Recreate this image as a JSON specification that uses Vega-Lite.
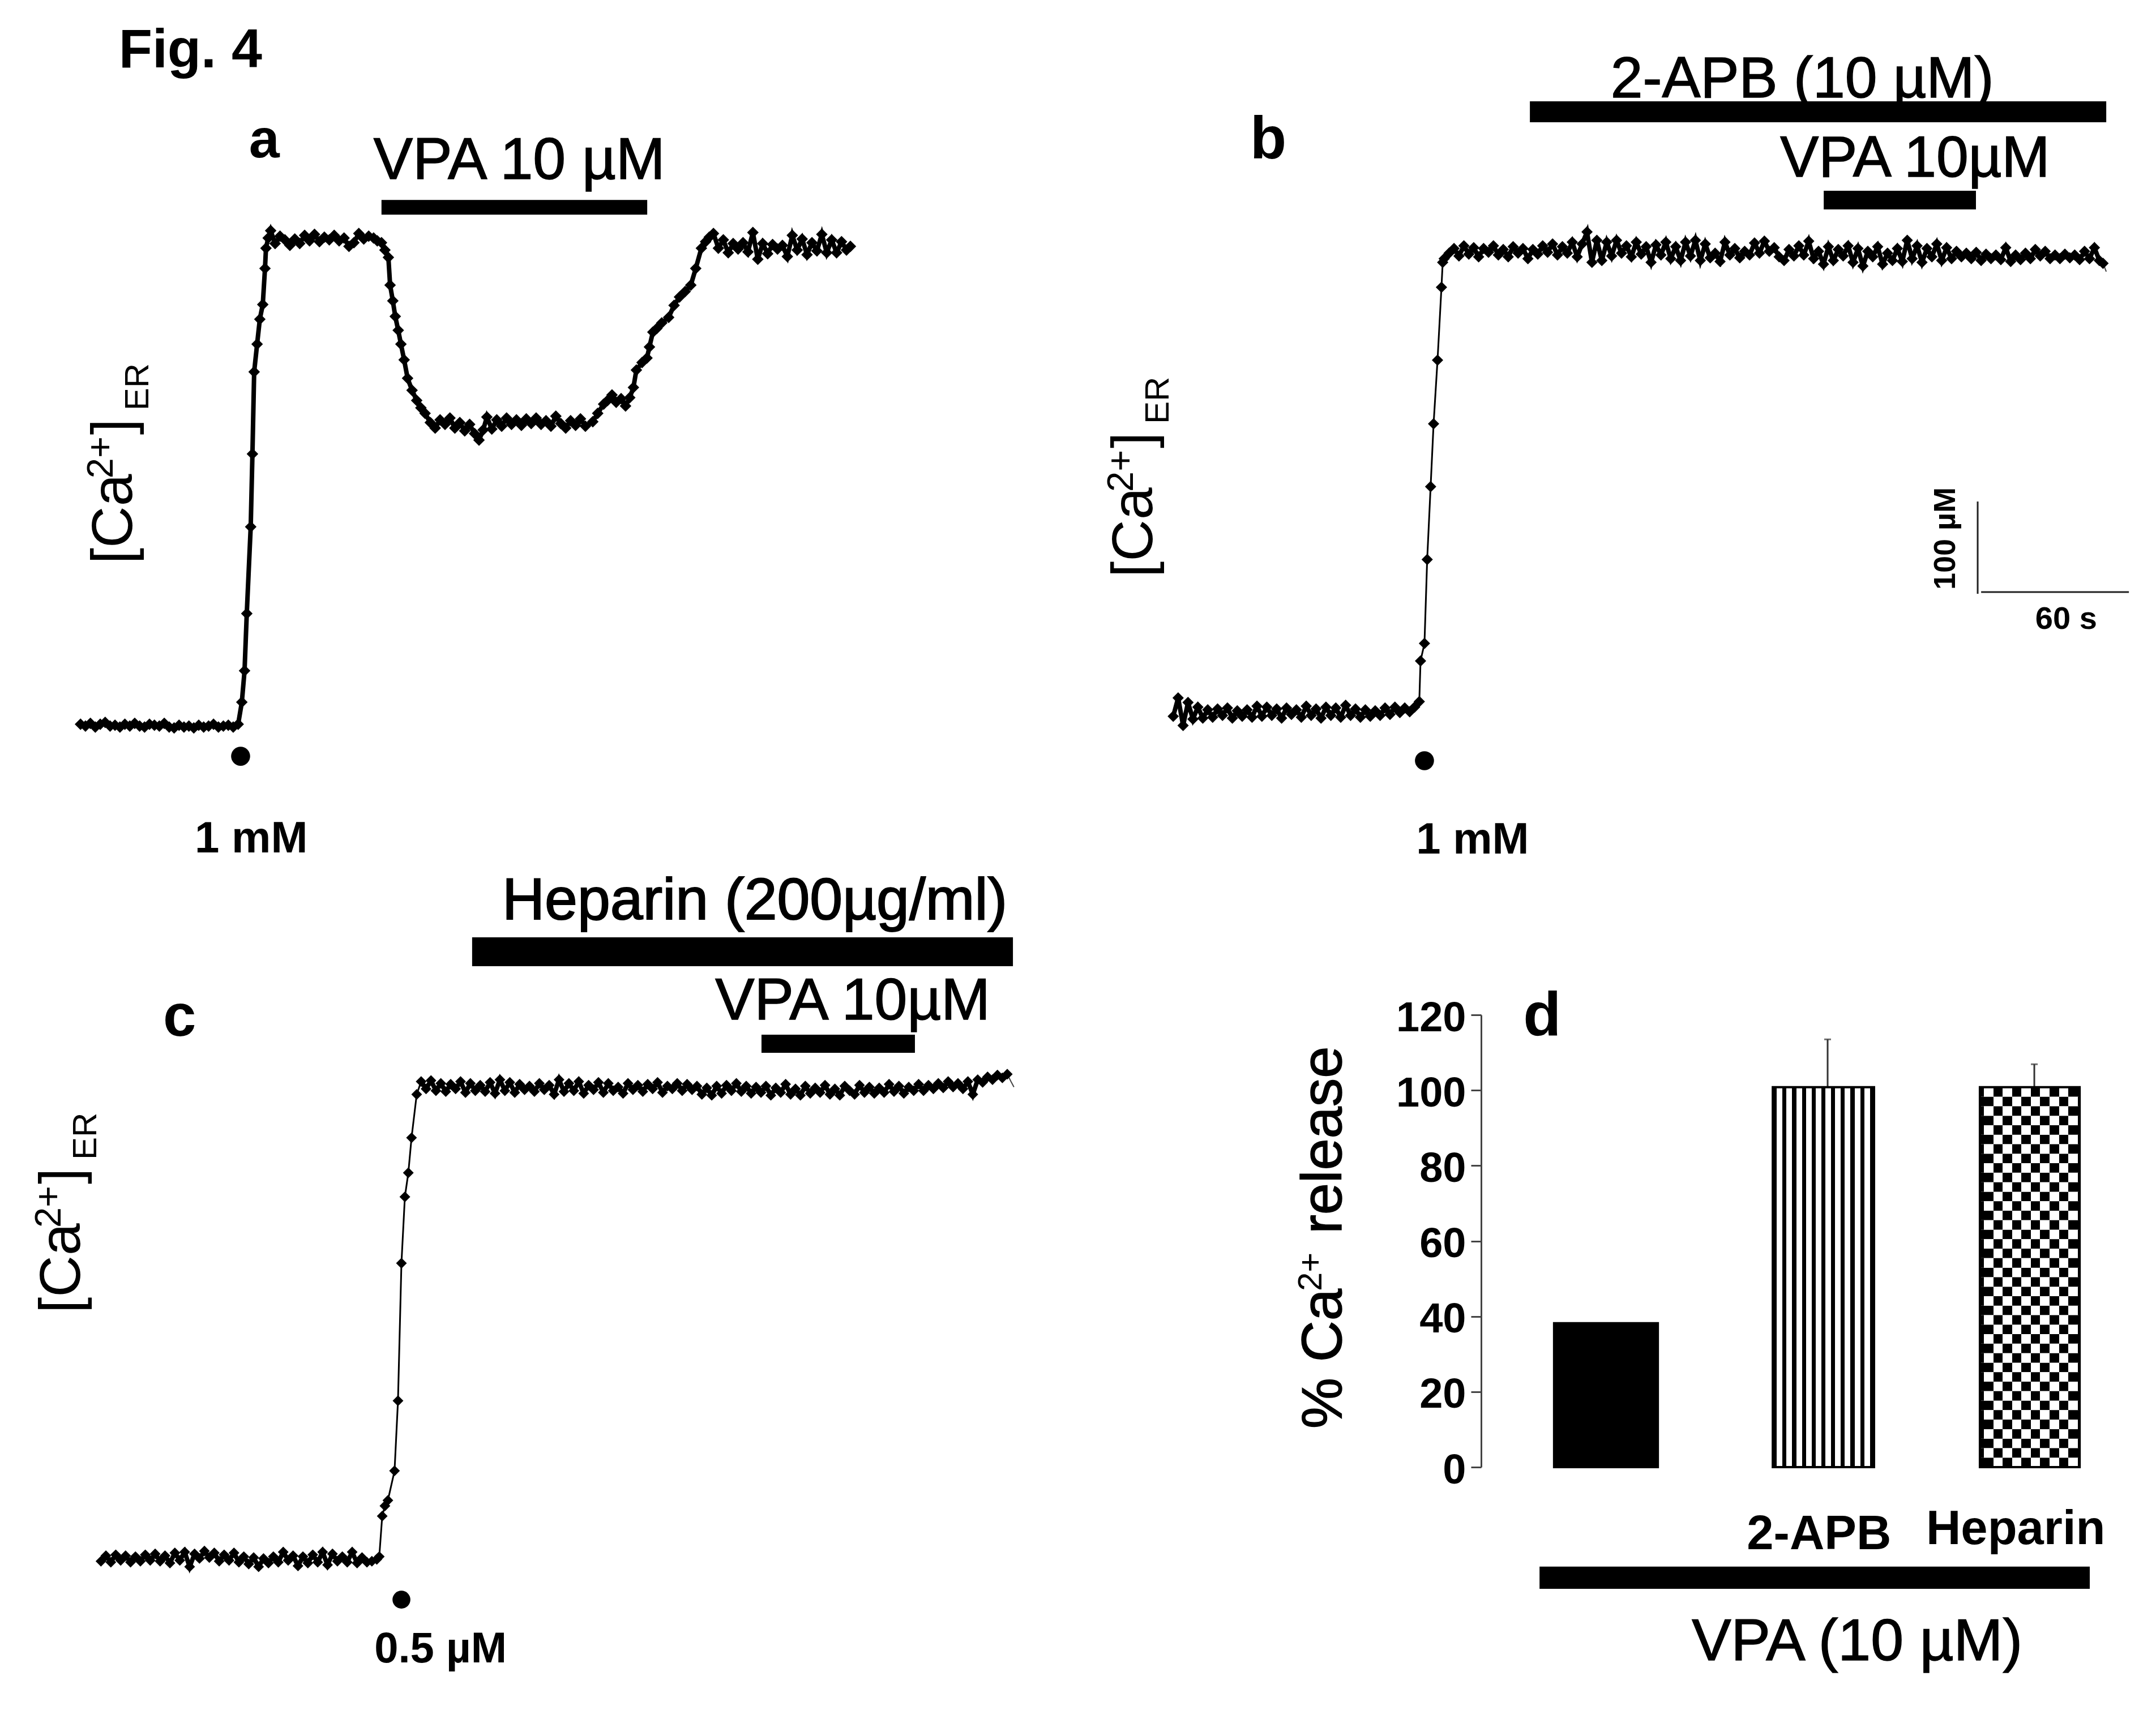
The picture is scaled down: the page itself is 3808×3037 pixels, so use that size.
{"$schema":"https://vega.github.io/schema/vega-lite/v6.json","background":"white","padding":0,"bounds":"flush","spacing":0,"columns":2,"align":"none",
"config":{"view":{"stroke":null},"text":{"font":"Liberation Sans","align":"left","baseline":"alphabetic","color":"black"},"line":{"color":"black"},"point":{"color":"black"},"rect":{"color":"black"}},
"datasets":{
"traceA":[{"t":-65,"v":1},{"t":-63,"v":-1},{"t":-61,"v":2},{"t":-59,"v":-2},{"t":-57,"v":1},{"t":-55,"v":3},{"t":-53,"v":-1},{"t":-51,"v":0},{"t":-49,"v":-2},{"t":-47,"v":1},{"t":-45,"v":-1},{"t":-43,"v":2},{"t":-41,"v":-1},{"t":-39,"v":-2},{"t":-37,"v":1},{"t":-35,"v":0},{"t":-33,"v":-1},{"t":-31,"v":2},{"t":-29,"v":-2},{"t":-27,"v":-3},{"t":-25,"v":0},{"t":-23,"v":-2},{"t":-21,"v":-1},{"t":-19,"v":-3},{"t":-17,"v":0},{"t":-15,"v":-2},{"t":-13,"v":-1},{"t":-11,"v":1},{"t":-9,"v":-2},{"t":-7,"v":-1},{"t":-5,"v":0},{"t":-3,"v":-2},{"t":-1,"v":1},{"t":0.5,"v":25},{"t":1.6,"v":59},{"t":2.5,"v":121},{"t":4.1,"v":215},{"t":4.8,"v":294},{"t":5.5,"v":383},{"t":6.7,"v":413},{"t":7.8,"v":440},{"t":9,"v":456},{"t":9.9,"v":495},{"t":10.3,"v":517},{"t":11.2,"v":528},{"t":12.2,"v":536},{"t":14,"v":522},{"t":16,"v":530},{"t":18,"v":526},{"t":20,"v":520},{"t":22,"v":527},{"t":24,"v":522},{"t":26,"v":531},{"t":28,"v":525},{"t":30,"v":532},{"t":32,"v":524},{"t":34,"v":529},{"t":36,"v":526},{"t":38,"v":531},{"t":40,"v":525},{"t":42,"v":528},{"t":44,"v":519},{"t":46,"v":523},{"t":48,"v":533},{"t":50,"v":527},{"t":52,"v":530},{"t":54,"v":528},{"t":55.5,"v":525},{"t":57.2,"v":523},{"t":58.6,"v":515},{"t":60,"v":507},{"t":60.7,"v":477},{"t":61.8,"v":460},{"t":62.8,"v":443},{"t":64,"v":428},{"t":65.1,"v":413},{"t":66.4,"v":396},{"t":67.8,"v":376},{"t":69.6,"v":363},{"t":71.5,"v":352},{"t":73.2,"v":344},{"t":74.9,"v":338},{"t":77,"v":328},{"t":79,"v":322},{"t":81,"v":331},{"t":83,"v":326},{"t":85,"v":333},{"t":87,"v":322},{"t":89,"v":328},{"t":91,"v":319},{"t":93,"v":326},{"t":95,"v":316},{"t":96.8,"v":309},{"t":98.5,"v":320},{"t":100,"v":334},{"t":102,"v":321},{"t":104,"v":331},{"t":106,"v":324},{"t":108,"v":333},{"t":110,"v":326},{"t":112,"v":331},{"t":114,"v":325},{"t":116,"v":332},{"t":118,"v":327},{"t":120,"v":333},{"t":122,"v":326},{"t":124,"v":330},{"t":126,"v":324},{"t":128,"v":335},{"t":130,"v":327},{"t":132,"v":322},{"t":134,"v":330},{"t":136,"v":325},{"t":138,"v":332},{"t":140,"v":324},{"t":143,"v":329},{"t":145,"v":338},{"t":147.4,"v":348},{"t":149,"v":352},{"t":150.8,"v":358},{"t":152.5,"v":350},{"t":154.5,"v":354},{"t":156.3,"v":346},{"t":158,"v":355},{"t":159.5,"v":366},{"t":160.7,"v":385},{"t":163,"v":393},{"t":165,"v":398},{"t":166,"v":410},{"t":167.4,"v":426},{"t":169,"v":430},{"t":171,"v":436},{"t":173.8,"v":442},{"t":176,"v":455},{"t":178.2,"v":464},{"t":180.5,"v":470},{"t":182.8,"v":477},{"t":184.8,"v":495},{"t":187.1,"v":517},{"t":188.8,"v":524},{"t":190.3,"v":529},{"t":192,"v":533},{"t":194,"v":517},{"t":196,"v":526},{"t":198,"v":512},{"t":200,"v":522},{"t":202,"v":516},{"t":204,"v":523},{"t":206,"v":513},{"t":208,"v":534},{"t":210,"v":505},{"t":212,"v":522},{"t":214,"v":511},{"t":216,"v":521},{"t":218,"v":516},{"t":220,"v":520},{"t":222,"v":508},{"t":224,"v":531},{"t":226,"v":515},{"t":228,"v":527},{"t":230,"v":510},{"t":232,"v":523},{"t":234,"v":514},{"t":236,"v":532},{"t":238,"v":512},{"t":240,"v":526},{"t":242,"v":512},{"t":244,"v":524},{"t":246,"v":515},{"t":247.6,"v":519}],
"traceB":[{"t":-102,"v":-4},{"t":-100,"v":16},{"t":-98,"v":-14},{"t":-96,"v":11},{"t":-94,"v":-7},{"t":-92,"v":6},{"t":-90,"v":-6},{"t":-88,"v":3},{"t":-86,"v":-5},{"t":-84,"v":4},{"t":-82,"v":-3},{"t":-80,"v":5},{"t":-78,"v":-6},{"t":-76,"v":2},{"t":-74,"v":-4},{"t":-72,"v":3},{"t":-70,"v":-5},{"t":-68,"v":7},{"t":-66,"v":-4},{"t":-64,"v":6},{"t":-62,"v":-3},{"t":-60,"v":4},{"t":-58,"v":-6},{"t":-56,"v":5},{"t":-54,"v":-2},{"t":-52,"v":3},{"t":-50,"v":-5},{"t":-48,"v":7},{"t":-46,"v":-3},{"t":-44,"v":4},{"t":-42,"v":-6},{"t":-40,"v":6},{"t":-38,"v":-3},{"t":-36,"v":5},{"t":-34,"v":-5},{"t":-32,"v":8},{"t":-30,"v":-3},{"t":-28,"v":4},{"t":-26,"v":-5},{"t":-24,"v":3},{"t":-22,"v":-4},{"t":-20,"v":2},{"t":-18,"v":-3},{"t":-16,"v":5},{"t":-14,"v":-2},{"t":-12,"v":6},{"t":-10,"v":0},{"t":-8,"v":5},{"t":-6,"v":1},{"t":-4,"v":6},{"t":-2.1,"v":12},{"t":-1.6,"v":56},{"t":0,"v":75},{"t":1.1,"v":166},{"t":2.5,"v":245},{"t":3.7,"v":313},{"t":5.3,"v":382},{"t":6.9,"v":461},{"t":7.4,"v":488},{"t":8,"v":492},{"t":10,"v":498},{"t":12,"v":503},{"t":14,"v":495},{"t":16,"v":506},{"t":18,"v":497},{"t":20,"v":504},{"t":22,"v":494},{"t":24,"v":503},{"t":26,"v":499},{"t":28,"v":506},{"t":30,"v":496},{"t":32,"v":502},{"t":34,"v":494},{"t":36,"v":505},{"t":38,"v":498},{"t":40,"v":503},{"t":42,"v":492},{"t":44,"v":502},{"t":46,"v":497},{"t":48,"v":506},{"t":50,"v":499},{"t":52,"v":508},{"t":54,"v":496},{"t":56,"v":505},{"t":58,"v":498},{"t":60,"v":510},{"t":62,"v":494},{"t":64,"v":508},{"t":66,"v":521},{"t":68,"v":488},{"t":70,"v":512},{"t":72,"v":490},{"t":74,"v":510},{"t":76,"v":495},{"t":78,"v":512},{"t":80,"v":498},{"t":82,"v":506},{"t":84,"v":494},{"t":86,"v":510},{"t":88,"v":497},{"t":90,"v":505},{"t":92,"v":488},{"t":94,"v":507},{"t":96,"v":496},{"t":98,"v":510},{"t":100,"v":492},{"t":102,"v":505},{"t":104,"v":490},{"t":106,"v":510},{"t":108,"v":495},{"t":110,"v":512},{"t":112,"v":490},{"t":114,"v":508},{"t":116,"v":493},{"t":118,"v":498},{"t":120,"v":489},{"t":122,"v":510},{"t":124,"v":496},{"t":126,"v":503},{"t":128,"v":493},{"t":130,"v":500},{"t":132,"v":496},{"t":134,"v":509},{"t":136,"v":498},{"t":138,"v":511},{"t":140,"v":500},{"t":142,"v":504},{"t":144,"v":494},{"t":146,"v":490},{"t":148,"v":502},{"t":150,"v":495},{"t":152,"v":506},{"t":154,"v":496},{"t":156,"v":511},{"t":158,"v":492},{"t":160,"v":500},{"t":162,"v":486},{"t":164,"v":505},{"t":166,"v":490},{"t":168,"v":502},{"t":170,"v":495},{"t":172,"v":506},{"t":174,"v":488},{"t":176,"v":503},{"t":178,"v":484},{"t":180,"v":500},{"t":182,"v":494},{"t":184,"v":505},{"t":186,"v":486},{"t":188,"v":498},{"t":190,"v":490},{"t":192,"v":503},{"t":194,"v":489},{"t":196,"v":512},{"t":198,"v":492},{"t":200,"v":506},{"t":202,"v":488},{"t":204,"v":503},{"t":206,"v":494},{"t":208,"v":508},{"t":210,"v":490},{"t":212,"v":504},{"t":214,"v":492},{"t":216,"v":500},{"t":218,"v":494},{"t":220,"v":498},{"t":222,"v":492},{"t":224,"v":499},{"t":226,"v":490},{"t":228,"v":497},{"t":230,"v":492},{"t":232,"v":496},{"t":234,"v":491},{"t":236,"v":504},{"t":238,"v":489},{"t":240,"v":496},{"t":242,"v":491},{"t":244,"v":498},{"t":246,"v":492},{"t":248,"v":502},{"t":250,"v":495},{"t":252,"v":500},{"t":254,"v":492},{"t":256,"v":496},{"t":258,"v":492},{"t":260,"v":497},{"t":262,"v":493},{"t":264,"v":496},{"t":266,"v":491},{"t":268,"v":500},{"t":270,"v":492},{"t":272,"v":504},{"t":274,"v":490},{"t":275.5,"v":487}],
"tailB":[{"t":275.5,"v":487},{"t":276.8,"v":478}],
"traceC":[{"t":-122,"v":-2},{"t":-120,"v":4},{"t":-118,"v":-3},{"t":-116,"v":5},{"t":-114,"v":-1},{"t":-112,"v":4},{"t":-110,"v":-3},{"t":-108,"v":3},{"t":-106,"v":-2},{"t":-104,"v":5},{"t":-102,"v":-1},{"t":-100,"v":6},{"t":-98,"v":-2},{"t":-96,"v":4},{"t":-94,"v":-4},{"t":-92,"v":7},{"t":-90,"v":-1},{"t":-88,"v":8},{"t":-86,"v":-8},{"t":-84,"v":6},{"t":-82,"v":1},{"t":-80,"v":9},{"t":-78,"v":2},{"t":-76,"v":7},{"t":-74,"v":-2},{"t":-72,"v":5},{"t":-70,"v":-1},{"t":-68,"v":7},{"t":-66,"v":-3},{"t":-64,"v":3},{"t":-62,"v":-5},{"t":-60,"v":2},{"t":-58,"v":-8},{"t":-56,"v":1},{"t":-54,"v":-4},{"t":-52,"v":3},{"t":-50,"v":-3},{"t":-48,"v":8},{"t":-46,"v":-1},{"t":-44,"v":4},{"t":-42,"v":-7},{"t":-40,"v":3},{"t":-38,"v":-4},{"t":-36,"v":5},{"t":-34,"v":-3},{"t":-32,"v":8},{"t":-30,"v":-6},{"t":-28,"v":6},{"t":-26,"v":-2},{"t":-24,"v":3},{"t":-22,"v":-3},{"t":-20,"v":8},{"t":-18,"v":-4},{"t":-16,"v":2},{"t":-14,"v":-3},{"t":-12,"v":-2},{"t":-10,"v":0},{"t":-9,"v":3},{"t":-7.8,"v":47},{"t":-6.7,"v":58},{"t":-5.5,"v":64},{"t":-2.8,"v":96},{"t":-1.4,"v":172},{"t":0,"v":321},{"t":1.4,"v":393},{"t":2.8,"v":419},{"t":4.1,"v":457},{"t":6.2,"v":504},{"t":8,"v":518},{"t":10,"v":510},{"t":12,"v":519},{"t":14,"v":508},{"t":16,"v":516},{"t":18,"v":507},{"t":20,"v":515},{"t":22,"v":510},{"t":24,"v":518},{"t":26,"v":506},{"t":28,"v":516},{"t":30,"v":508},{"t":32,"v":514},{"t":34,"v":507},{"t":36,"v":517},{"t":38,"v":505},{"t":40,"v":520},{"t":42,"v":508},{"t":44,"v":517},{"t":46,"v":506},{"t":48,"v":515},{"t":50,"v":509},{"t":52,"v":513},{"t":54,"v":507},{"t":56,"v":516},{"t":58,"v":509},{"t":60,"v":514},{"t":62,"v":504},{"t":64,"v":520},{"t":66,"v":507},{"t":68,"v":516},{"t":70,"v":508},{"t":72,"v":518},{"t":74,"v":505},{"t":76,"v":514},{"t":78,"v":509},{"t":80,"v":517},{"t":82,"v":506},{"t":84,"v":516},{"t":86,"v":508},{"t":88,"v":512},{"t":90,"v":505},{"t":92,"v":516},{"t":94,"v":509},{"t":96,"v":514},{"t":98,"v":507},{"t":100,"v":515},{"t":102,"v":510},{"t":104,"v":517},{"t":106,"v":506},{"t":108,"v":513},{"t":110,"v":510},{"t":112,"v":516},{"t":114,"v":508},{"t":116,"v":515},{"t":118,"v":509},{"t":120,"v":513},{"t":122,"v":504},{"t":124,"v":511},{"t":126,"v":503},{"t":128,"v":513},{"t":130,"v":505},{"t":132,"v":514},{"t":134,"v":508},{"t":136,"v":516},{"t":138,"v":507},{"t":140,"v":513},{"t":142,"v":505},{"t":144,"v":512},{"t":146,"v":506},{"t":148,"v":513},{"t":150,"v":503},{"t":152,"v":511},{"t":154,"v":506},{"t":156,"v":515},{"t":158,"v":504},{"t":160,"v":510},{"t":162,"v":503},{"t":164,"v":513},{"t":166,"v":505},{"t":168,"v":511},{"t":170,"v":506},{"t":172,"v":514},{"t":174,"v":504},{"t":176,"v":510},{"t":178,"v":503},{"t":180,"v":513},{"t":182,"v":508},{"t":184,"v":504},{"t":186,"v":514},{"t":188,"v":506},{"t":190,"v":512},{"t":192,"v":505},{"t":194,"v":511},{"t":196,"v":506},{"t":198,"v":515},{"t":200,"v":507},{"t":202,"v":513},{"t":204,"v":505},{"t":206,"v":512},{"t":208,"v":508},{"t":210,"v":515},{"t":212,"v":508},{"t":214,"v":514},{"t":216,"v":510},{"t":218,"v":516},{"t":220,"v":511},{"t":222,"v":518},{"t":224,"v":512},{"t":226,"v":516},{"t":228,"v":510},{"t":230,"v":518},{"t":232,"v":504},{"t":234,"v":520},{"t":236,"v":517},{"t":238,"v":523},{"t":240,"v":520},{"t":242,"v":525},{"t":244,"v":522},{"t":246,"v":526}],
"tailC":[{"t":246,"v":526},{"t":247.5,"v":518},{"t":248.7,"v":512}],
"bars":[{"treatment":"VPA","t":0.346,"t2":0.838,"value":38.2},{"treatment":"2-APB","t":1.383,"t2":1.863,"value":100.8},{"treatment":"Heparin","t":2.365,"t2":2.838,"value":100.8}],
"errors":[{"treatment":"2-APB","t":1.643,"value":100.8,"upper":113.5},{"treatment":"Heparin","t":2.623,"value":100.8,"upper":106.9}],
"checker":[{"t":2.365,"t2":2.838,"v":0,"v2":2.52,"phase":"a"},{"t":2.365,"t2":2.838,"v":2.52,"v2":5.04,"phase":"b"},{"t":2.365,"t2":2.838,"v":5.04,"v2":7.56,"phase":"a"},{"t":2.365,"t2":2.838,"v":7.56,"v2":10.08,"phase":"b"},{"t":2.365,"t2":2.838,"v":10.08,"v2":12.6,"phase":"a"},{"t":2.365,"t2":2.838,"v":12.6,"v2":15.12,"phase":"b"},{"t":2.365,"t2":2.838,"v":15.12,"v2":17.64,"phase":"a"},{"t":2.365,"t2":2.838,"v":17.64,"v2":20.16,"phase":"b"},{"t":2.365,"t2":2.838,"v":20.16,"v2":22.68,"phase":"a"},{"t":2.365,"t2":2.838,"v":22.68,"v2":25.2,"phase":"b"},{"t":2.365,"t2":2.838,"v":25.2,"v2":27.72,"phase":"a"},{"t":2.365,"t2":2.838,"v":27.72,"v2":30.24,"phase":"b"},{"t":2.365,"t2":2.838,"v":30.24,"v2":32.76,"phase":"a"},{"t":2.365,"t2":2.838,"v":32.76,"v2":35.28,"phase":"b"},{"t":2.365,"t2":2.838,"v":35.28,"v2":37.8,"phase":"a"},{"t":2.365,"t2":2.838,"v":37.8,"v2":40.32,"phase":"b"},{"t":2.365,"t2":2.838,"v":40.32,"v2":42.84,"phase":"a"},{"t":2.365,"t2":2.838,"v":42.84,"v2":45.36,"phase":"b"},{"t":2.365,"t2":2.838,"v":45.36,"v2":47.88,"phase":"a"},{"t":2.365,"t2":2.838,"v":47.88,"v2":50.4,"phase":"b"},{"t":2.365,"t2":2.838,"v":50.4,"v2":52.92,"phase":"a"},{"t":2.365,"t2":2.838,"v":52.92,"v2":55.44,"phase":"b"},{"t":2.365,"t2":2.838,"v":55.44,"v2":57.96,"phase":"a"},{"t":2.365,"t2":2.838,"v":57.96,"v2":60.48,"phase":"b"},{"t":2.365,"t2":2.838,"v":60.48,"v2":63,"phase":"a"},{"t":2.365,"t2":2.838,"v":63,"v2":65.52,"phase":"b"},{"t":2.365,"t2":2.838,"v":65.52,"v2":68.04,"phase":"a"},{"t":2.365,"t2":2.838,"v":68.04,"v2":70.56,"phase":"b"},{"t":2.365,"t2":2.838,"v":70.56,"v2":73.08,"phase":"a"},{"t":2.365,"t2":2.838,"v":73.08,"v2":75.6,"phase":"b"},{"t":2.365,"t2":2.838,"v":75.6,"v2":78.12,"phase":"a"},{"t":2.365,"t2":2.838,"v":78.12,"v2":80.64,"phase":"b"},{"t":2.365,"t2":2.838,"v":80.64,"v2":83.16,"phase":"a"},{"t":2.365,"t2":2.838,"v":83.16,"v2":85.68,"phase":"b"},{"t":2.365,"t2":2.838,"v":85.68,"v2":88.2,"phase":"a"},{"t":2.365,"t2":2.838,"v":88.2,"v2":90.72,"phase":"b"},{"t":2.365,"t2":2.838,"v":90.72,"v2":93.24,"phase":"a"},{"t":2.365,"t2":2.838,"v":93.24,"v2":95.76,"phase":"b"},{"t":2.365,"t2":2.838,"v":95.76,"v2":98.28,"phase":"a"},{"t":2.365,"t2":2.838,"v":98.28,"v2":100.8,"phase":"b"}]
},
"concat":[
{"width":2616,"height":1793,
"encoding":{"x":{"field":"t","type":"quantitative","axis":null,"scale":{"domain":[-97.7,503.7],"nice":false,"zero":false}},"y":{"field":"v","type":"quantitative","axis":null,"scale":{"domain":[-314,786],"nice":false,"zero":false}}},
"layer":[
{"data":{"name":"traceA"},"mark":{"type":"line","strokeWidth":8}},
{"data":{"name":"traceA"},"mark":{"type":"point","shape":"diamond","filled":true,"size":420,"opacity":1}},
{"data":{"values":[{"t":57.2,"t2":165.1,"v":569.3,"v2":553.4}]},"mark":"rect","encoding":{"x2":{"field":"t2"},"y2":{"field":"v2"}}},
{"data":{"values":[{"t":0,"v":-33.7}]},"mark":{"type":"circle","size":1130,"color":"black","opacity":1}},
{"data":{"values":[{"t":-49.5,"v":712.9,"label":"Fig. 4"},{"t":3.4,"v":615.3,"label":"a"}]},"mark":{"type":"text","fontSize":97,"fontWeight":"bold"},"encoding":{"text":{"field":"label"}}},
{"data":{"values":[{"t":54,"v":592,"label":"VPA 10 µM"}]},"mark":{"type":"text","fontSize":104,"stroke":"black","strokeWidth":1.5},"encoding":{"text":{"field":"label"}}},
{"data":{"values":[{"t":-18.6,"v":-138,"label":"1 mM"}]},"mark":{"type":"text","fontSize":78,"fontWeight":"bold"},"encoding":{"text":{"field":"label"}}},
{"data":{"values":[{"t":-44.1,"v":174.8,"label":"[Ca"},{"t":-44.1,"v":314.7,"label":"]"}]},"mark":{"type":"text","fontSize":102,"angle":270},"encoding":{"text":{"field":"label"}}},
{"data":{"values":[{"t":-51.9,"v":267.5,"label":"2+"}]},"mark":{"type":"text","fontSize":65,"angle":270},"encoding":{"text":{"field":"label"}}},
{"data":{"values":[{"t":-37.5,"v":341.1,"label":"ER"}]},"mark":{"type":"text","fontSize":60,"angle":270},"encoding":{"text":{"field":"label"}}}
]},
{"width":1192,"height":1793,
"encoding":{"x":{"field":"t","type":"quantitative","axis":null,"scale":{"domain":[23,297],"nice":false,"zero":false}},"y":{"field":"v","type":"quantitative","axis":null,"scale":{"domain":[-327.6,772.4],"nice":false,"zero":false}}},
"layer":[
{"data":{"name":"traceB"},"mark":{"type":"line","strokeWidth":3}},
{"data":{"name":"traceB"},"transform":[{"filter":"datum.t < -3"}],"mark":{"type":"line","strokeWidth":8}},
{"data":{"name":"traceB"},"transform":[{"filter":"datum.t > 7"}],"mark":{"type":"line","strokeWidth":8}},
{"data":{"name":"tailB"},"mark":{"type":"line","strokeWidth":2,"color":"#444"}},
{"data":{"name":"traceB"},"mark":{"type":"point","shape":"diamond","filled":true,"size":400,"opacity":1}},
{"data":{"values":[{"t":42.8,"t2":276.8,"v":662.6,"v2":639.9},{"t":162.1,"t2":223.9,"v":565.6,"v2":545.4}]},"mark":"rect","encoding":{"x2":{"field":"t2"},"y2":{"field":"v2"}}},
{"data":{"values":[{"t":0,"v":-52.1}]},"mark":{"type":"circle","size":1130,"color":"black","opacity":1}},
{"data":{"values":[{"t":224.6,"t2":224.6,"v":228.8,"v2":128.8},{"t":226,"t2":286,"v":130.7,"v2":130.7}]},"mark":{"type":"rule","strokeWidth":3,"color":"#222"},"encoding":{"x2":{"field":"t2"},"y2":{"field":"v2"}}},
{"data":{"values":[{"t":-70.8,"v":600.6,"label":"b"}]},"mark":{"type":"text","fontSize":105,"fontWeight":"bold"},"encoding":{"text":{"field":"label"}}},
{"data":{"values":[{"t":75.6,"v":666.9,"label":"2-APB (10 µM)"},{"t":144.4,"v":581,"label":"VPA 10µM"}]},"mark":{"type":"text","fontSize":102,"stroke":"black","strokeWidth":1.5},"encoding":{"text":{"field":"label"}}},
{"data":{"values":[{"t":-3.4,"v":-152.8,"label":"1 mM"}]},"mark":{"type":"text","fontSize":78,"fontWeight":"bold"},"encoding":{"text":{"field":"label"}}},
{"data":{"values":[{"t":-110.6,"v":146.6,"label":"[Ca"},{"t":-110.6,"v":286.5,"label":"]"}]},"mark":{"type":"text","fontSize":102,"angle":270},"encoding":{"text":{"field":"label"}}},
{"data":{"values":[{"t":-118.4,"v":239.3,"label":"2+"}]},"mark":{"type":"text","fontSize":65,"angle":270},"encoding":{"text":{"field":"label"}}},
{"data":{"values":[{"t":-103.9,"v":312.9,"label":"ER"}]},"mark":{"type":"text","fontSize":60,"angle":270},"encoding":{"text":{"field":"label"}}},
{"data":{"values":[{"t":215.4,"v":133.1,"label":"100 µM"}]},"mark":{"type":"text","fontSize":54,"fontWeight":"bold","angle":270},"encoding":{"text":{"field":"label"}}},
{"data":{"values":[{"t":248,"v":90.8,"label":"60 s"}]},"mark":{"type":"text","fontSize":56,"fontWeight":"bold"},"encoding":{"text":{"field":"label"}}}
]},
{"width":2616,"height":1244,
"encoding":{"x":{"field":"t","type":"quantitative","axis":null,"scale":{"domain":[-163,438.4],"nice":false,"zero":false}},"y":{"field":"v","type":"quantitative","axis":null,"scale":{"domain":[-173,590.2],"nice":false,"zero":false}}},
"layer":[
{"data":{"name":"traceC"},"mark":{"type":"line","strokeWidth":3}},
{"data":{"name":"traceC"},"transform":[{"filter":"datum.t < -10"}],"mark":{"type":"line","strokeWidth":8}},
{"data":{"name":"traceC"},"transform":[{"filter":"datum.t > 7"}],"mark":{"type":"line","strokeWidth":8}},
{"data":{"name":"tailC"},"mark":{"type":"line","strokeWidth":2,"color":"#444"}},
{"data":{"name":"traceC"},"mark":{"type":"point","shape":"diamond","filled":true,"size":360,"opacity":1}},
{"data":{"values":[{"t":28.7,"t2":248.3,"v":674.2,"v2":642.9},{"t":146.2,"t2":208.5,"v":568.7,"v2":549.1}]},"mark":"rect","encoding":{"x2":{"field":"t2"},"y2":{"field":"v2"}}},
{"data":{"values":[{"t":0,"v":-43.6}]},"mark":{"type":"circle","size":1000,"color":"black","opacity":1}},
{"data":{"values":[{"t":-96.8,"v":567.5,"label":"c"}]},"mark":{"type":"text","fontSize":105,"fontWeight":"bold"},"encoding":{"text":{"field":"label"}}},
{"data":{"values":[{"t":40.9,"v":693.9,"label":"Heparin (200µg/ml)"}]},"mark":{"type":"text","fontSize":104,"stroke":"black","strokeWidth":2},"encoding":{"text":{"field":"label"}}},
{"data":{"values":[{"t":127.4,"v":585.3,"label":"VPA 10µM"}]},"mark":{"type":"text","fontSize":104,"stroke":"black","strokeWidth":1.5},"encoding":{"text":{"field":"label"}}},
{"data":{"values":[{"t":-11,"v":-111.7,"label":"0.5 µM"}]},"mark":{"type":"text","fontSize":76,"fontWeight":"bold"},"encoding":{"text":{"field":"label"}}},
{"data":{"values":[{"t":-130.5,"v":266.9,"label":"[Ca"},{"t":-130.5,"v":406.7,"label":"]"}]},"mark":{"type":"text","fontSize":102,"angle":270},"encoding":{"text":{"field":"label"}}},
{"data":{"values":[{"t":-138.3,"v":359.5,"label":"2+"}]},"mark":{"type":"text","fontSize":65,"angle":270},"encoding":{"text":{"field":"label"}}},
{"data":{"values":[{"t":-123.9,"v":433.1,"label":"ER"}]},"mark":{"type":"text","fontSize":60,"angle":270},"encoding":{"text":{"field":"label"}}}
]},
{"width":1192,"height":799,
"encoding":{"x":{"field":"t","type":"quantitative","axis":null,"scale":{"domain":[0,3.2],"nice":false,"zero":false}},"y":{"field":"v","type":"quantitative","scale":{"domain":[0,120],"nice":false},"axis":{"title":null,"grid":false,"values":[0,20,40,60,80,100,120],"domainColor":"#444","domainWidth":3,"tickColor":"#444","tickWidth":3,"tickSize":18,"labelFont":"Liberation Sans","labelFontSize":74,"labelFontWeight":"bold","labelColor":"black","labelPadding":9,"labelOffset":6,"labelOverlap":false,"labelBound":false,"labelFlush":false}}},
"layer":[
{"data":{"name":"errors"},"mark":{"type":"rule","strokeWidth":3,"color":"#333"},"encoding":{"y":{"field":"value","type":"quantitative"},"y2":{"field":"upper"}}},
{"data":{"name":"errors"},"mark":{"type":"tick","orient":"horizontal","size":12,"thickness":3,"color":"#333"},"encoding":{"y":{"field":"upper","type":"quantitative"}}},
{"data":{"name":"bars"},"transform":[{"filter":{"field":"treatment","equal":"VPA"}}],"mark":{"type":"rect","color":"black"},"encoding":{"x2":{"field":"t2"},"y":{"field":"value","type":"quantitative"},"y2":{"datum":0}}},
{"data":{"name":"bars"},"transform":[{"filter":{"field":"treatment","equal":"2-APB"}}],"mark":{"type":"rect","fill":{"gradient":"linear","x1":0,"y1":0,"x2":1,"y2":0,"stops":[{"offset":0,"color":"black"},{"offset":0.04,"color":"black"},{"offset":0.04,"color":"white"},{"offset":0.096,"color":"white"},{"offset":0.096,"color":"black"},{"offset":0.136,"color":"black"},{"offset":0.136,"color":"white"},{"offset":0.192,"color":"white"},{"offset":0.192,"color":"black"},{"offset":0.232,"color":"black"},{"offset":0.232,"color":"white"},{"offset":0.288,"color":"white"},{"offset":0.288,"color":"black"},{"offset":0.328,"color":"black"},{"offset":0.328,"color":"white"},{"offset":0.384,"color":"white"},{"offset":0.384,"color":"black"},{"offset":0.424,"color":"black"},{"offset":0.424,"color":"white"},{"offset":0.48,"color":"white"},{"offset":0.48,"color":"black"},{"offset":0.52,"color":"black"},{"offset":0.52,"color":"white"},{"offset":0.576,"color":"white"},{"offset":0.576,"color":"black"},{"offset":0.616,"color":"black"},{"offset":0.616,"color":"white"},{"offset":0.672,"color":"white"},{"offset":0.672,"color":"black"},{"offset":0.712,"color":"black"},{"offset":0.712,"color":"white"},{"offset":0.768,"color":"white"},{"offset":0.768,"color":"black"},{"offset":0.808,"color":"black"},{"offset":0.808,"color":"white"},{"offset":0.864,"color":"white"},{"offset":0.864,"color":"black"},{"offset":0.904,"color":"black"},{"offset":0.904,"color":"white"},{"offset":0.96,"color":"white"},{"offset":0.96,"color":"black"},{"offset":1,"color":"black"}]}},"encoding":{"x2":{"field":"t2"},"y":{"field":"value","type":"quantitative"},"y2":{"datum":0}}},
{"data":{"name":"checker"},"transform":[{"filter":{"field":"phase","equal":"a"}}],"mark":{"type":"rect","fill":{"gradient":"linear","x1":0,"y1":0,"x2":1,"y2":0,"stops":[{"offset":0,"color":"black"},{"offset":0.134,"color":"black"},{"offset":0.134,"color":"white"},{"offset":0.228,"color":"white"},{"offset":0.228,"color":"black"},{"offset":0.322,"color":"black"},{"offset":0.322,"color":"white"},{"offset":0.416,"color":"white"},{"offset":0.416,"color":"black"},{"offset":0.51,"color":"black"},{"offset":0.51,"color":"white"},{"offset":0.604,"color":"white"},{"offset":0.604,"color":"black"},{"offset":0.698,"color":"black"},{"offset":0.698,"color":"white"},{"offset":0.792,"color":"white"},{"offset":0.792,"color":"black"},{"offset":0.886,"color":"black"},{"offset":0.886,"color":"white"},{"offset":0.98,"color":"white"},{"offset":0.98,"color":"black"},{"offset":1,"color":"black"}]}},"encoding":{"x2":{"field":"t2"},"y2":{"field":"v2"}}},
{"data":{"name":"checker"},"transform":[{"filter":{"field":"phase","equal":"b"}}],"mark":{"type":"rect","fill":{"gradient":"linear","x1":0,"y1":0,"x2":1,"y2":0,"stops":[{"offset":0,"color":"black"},{"offset":0.04,"color":"black"},{"offset":0.04,"color":"white"},{"offset":0.134,"color":"white"},{"offset":0.134,"color":"black"},{"offset":0.228,"color":"black"},{"offset":0.228,"color":"white"},{"offset":0.322,"color":"white"},{"offset":0.322,"color":"black"},{"offset":0.416,"color":"black"},{"offset":0.416,"color":"white"},{"offset":0.51,"color":"white"},{"offset":0.51,"color":"black"},{"offset":0.604,"color":"black"},{"offset":0.604,"color":"white"},{"offset":0.698,"color":"white"},{"offset":0.698,"color":"black"},{"offset":0.792,"color":"black"},{"offset":0.792,"color":"white"},{"offset":0.886,"color":"white"},{"offset":0.886,"color":"black"},{"offset":1,"color":"black"}]}},"encoding":{"x2":{"field":"t2"},"y2":{"field":"v2"}}},
{"data":{"name":"bars"},"mark":{"type":"rect","stroke":"black","strokeWidth":4,"fillOpacity":0},"encoding":{"x2":{"field":"t2"},"y":{"field":"value","type":"quantitative"},"y2":{"datum":0}}},
{"data":{"values":[{"t":0.277,"t2":2.886,"v":-26.4,"v2":-32.3}]},"mark":"rect","encoding":{"x2":{"field":"t2"},"y2":{"field":"v2"}}},
{"data":{"values":[{"t":0.199,"v":114.6,"label":"d"}]},"mark":{"type":"text","fontSize":110,"fontWeight":"bold"},"encoding":{"text":{"field":"label"}}},
{"data":{"values":[{"t":1.26,"v":-21.8,"label":"2-APB"},{"t":2.11,"v":-20.4,"label":"Heparin"}]},"mark":{"type":"text","fontSize":85,"fontWeight":"bold"},"encoding":{"text":{"field":"label"}}},
{"data":{"values":[{"t":0.999,"v":-51.2,"label":"VPA (10 µM)"}]},"mark":{"type":"text","fontSize":104,"stroke":"black","strokeWidth":1.5},"encoding":{"text":{"field":"label"}}},
{"data":{"values":[{"t":-0.663,"v":10.2,"label":"% Ca"},{"t":-0.663,"v":61.9,"label":"release"}]},"mark":{"type":"text","fontSize":101,"angle":270,"stroke":"black","strokeWidth":1.5},"encoding":{"text":{"field":"label"}}},
{"data":{"values":[{"t":-0.757,"v":46.7,"label":"2+"}]},"mark":{"type":"text","fontSize":60,"angle":270},"encoding":{"text":{"field":"label"}}}
]}
]}
